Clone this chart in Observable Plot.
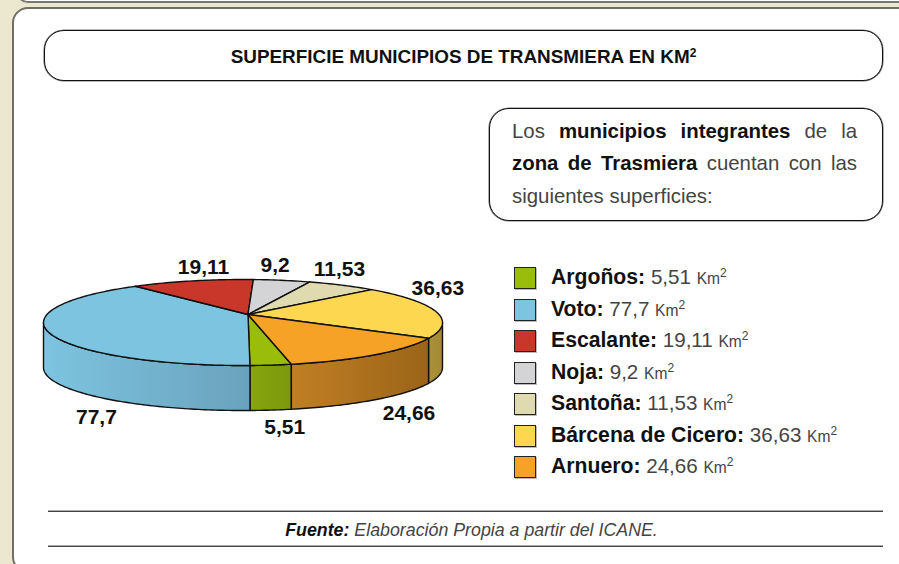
<!DOCTYPE html>
<html lang="es">
<head>
<meta charset="utf-8">
<script src="https://cdn.jsdelivr.net/npm/d3@7"></script>
<script src="https://cdn.jsdelivr.net/npm/@observablehq/plot@0.6"></script>
<style>
html,body{margin:0;padding:0;width:899px;height:564px;overflow:hidden;background:#ece7cf;font-family:"Liberation Sans",Arimo,sans-serif;color:#222}
.abs{position:absolute;box-sizing:border-box}
#prev{left:16px;top:-30px;width:900px;height:33px;background:#fff;border:2px solid #777;border-radius:0 0 0 12px}
#panel{left:12px;top:7px;width:920px;height:566px;background:#fff;border:2px solid #6f6f68;border-radius:16px}
.box{border:1px solid #111;box-shadow:0 0 0 .6px #777;border-radius:20px;background:#fff}
#title{left:44px;top:30px;width:839px;height:51px;padding-top:3px;display:flex;align-items:center;justify-content:center;font-weight:bold;font-size:18.9px;color:#111}
#title sup{font-size:12px;line-height:0;vertical-align:6px}
#note{left:489px;top:108px;width:394px;height:113px}
.ln{position:absolute;left:512px;width:345px;font-size:20.4px;line-height:24px;color:#444;white-space:nowrap}
.just{text-align:justify;text-align-last:justify;white-space:normal}
.ln b,.lg b{color:#111}
.sw{position:absolute;left:514px;width:22px;height:22px;box-sizing:border-box;border:1px solid #222;box-shadow:1px 1px 0 #bbb}
.lg{position:absolute;left:551px;height:24px;line-height:24px;font-size:20.6px;color:#444;white-space:nowrap}
.lg b{font-size:21.2px}
.lg small{font-size:15.6px}
.lg sup{font-size:12px;line-height:0;vertical-align:7px}
.rule{left:48px;width:835px;height:2px;background:#444;border-top:1px solid #aaa}
#src{left:54px;top:519px;width:835px;text-align:center;font-style:italic;font-size:17.8px;line-height:22px;color:#444}
#src b{color:#111}
#pie{left:0;top:240px}
#pie svg{background:transparent;display:block}
</style>
</head>
<body>
<div class="abs" id="prev"></div>
<div class="abs" id="panel"></div>
<div class="abs box" id="title"><span>SUPERFICIE MUNICIPIOS DE TRANSMIERA EN KM<sup>2</sup></span></div>
<div class="abs box" id="note"></div>
<div class="ln just" style="top:119px">Los <b>municipios integrantes</b> de la</div>
<div class="ln just" style="top:151px"><b>zona de Trasmiera</b> cuentan con las</div>
<div class="ln" style="top:184px">siguientes superficies:</div>
<div id="legend"></div>
<div class="abs rule" style="top:510px"></div>
<div class="abs rule" style="top:545px"></div>
<div class="abs" id="src"><b>Fuente:</b> Elaboración Propia a partir del ICANE.</div>
<div class="abs" id="pie"></div>
<script>
// Data
const municipios = ["Argoños", "Voto", "Escalante", "Noja", "Santoña", "Bárcena de Cicero", "Arnuero"];
const superficies = [5.51, 77.7, 19.11, 9.2, 11.53, 36.63, 24.66];
const etiquetas = ["5,51", "77,7", "19,11", "9,2", "11,53", "36,63", "24,66"];
const colores = ["#9abd0c", "#7dc4e0", "#c9372a", "#d4d4d6", "#dfdab0", "#fed751", "#f5a227"];
// Wall shading, left and right end of each visible side
const paredIzq = ["#86a50e", "#7dc4e0", "#c9372a", "#d4d4d6", "#dfdab0", "#ab8f3a", "#c17f24"];
const paredDer = ["#7a980b", "#6aa2bc", "#c9372a", "#d4d4d6", "#dfdab0", "#a58a34", "#9a6418"];
// Label offsets in pixels from the rim midpoint of each slice
const etiquetaDx = [14, 46, 11, -7, -3, 3, 34];
const etiquetaDy = [62, 84, -14, -15, -16, -22, 59];

// Perspective of the tilted disc
const giro = 74.1, amplitud = 5, fase = 80;  // degrees
const amplitud2 = 1, amplitud3 = 1.2;        // degrees
const apice = [0.025, -0.186];               // disc centre, in disc units
const grosor = 1.047;                        // wall depth, in disc units
const rad = Math.PI / 180;
const rimAngle = (phi) => phi + giro + amplitud * Math.cos((phi - fase) * rad)
  + amplitud2 * Math.cos(2 * phi * rad) + amplitud3 * Math.sin(2 * phi * rad);
const rimPoint = (a) => [Math.cos(a * rad), Math.sin(a * rad)];

const total = d3.sum(superficies);
let acc = 0;
const slices = municipios.map((name, i) => {
  const a0 = rimAngle(acc / total * 360);
  const mid = rimAngle((acc + superficies[i] / 2) / total * 360);
  acc += superficies[i];
  const a1 = rimAngle(acc / total * 360);
  return {name, i, a0, a1, mid};
});
const arc = (a0, a1) => [...d3.range(a0, a1, 1), a1];

// Top faces
const caras = slices.flatMap((s) => [
  {name: s.name, x: apice[0], y: apice[1]},
  ...arc(s.a0, s.a1).map((a) => { const [x, y] = rimPoint(a); return {name: s.name, x, y}; })
]);

// Visible part of each wall: the rim where sin(angle) >= 0
const walls = slices.flatMap((s) => {
  const out = [];
  for (const k of [0, 360]) {
    const a0 = Math.max(s.a0, k), a1 = Math.min(s.a1, k + 180);
    if (a1 > a0) {
      const pts = arc(a0, a1).map(rimPoint);
      out.push({i: s.i, pts: [
        ...pts.map(([x, y]) => ({x, y})),
        ...pts.slice().reverse().map(([x, y]) => ({x, y: y + grosor}))
      ]});
    }
  }
  return out;
});

const defs = () => {
  const d = d3.create("svg:defs");
  municipios.forEach((_, i) => {
    const g = d.append("linearGradient").attr("id", "pared" + i);
    g.append("stop").attr("offset", 0).attr("stop-color", paredIzq[i]);
    g.append("stop").attr("offset", 1).attr("stop-color", paredDer[i]);
  });
  return d.node();
};

const plot = Plot.plot({
  width: 480, height: 210,
  margin: 0,
  style: {background: "transparent", fontFamily: "'Liberation Sans',sans-serif"},
  x: {domain: [-1, 1], range: [43, 442], axis: null},
  y: {domain: [-1, 1], range: [39, 125], axis: null},
  color: {domain: municipios, range: colores},
  marks: [
    defs,
    ...walls.map((w) => Plot.line(w.pts, {
      x: "x", y: "y", curve: "linear-closed",
      fill: `url(#pared${w.i})`, stroke: "#111", strokeWidth: 1.4, strokeLinejoin: "round"
    })),
    Plot.line(caras, {
      x: "x", y: "y", z: "name", fill: "name", curve: "linear-closed",
      stroke: "#111", strokeWidth: 1.4, strokeLinejoin: "round"
    }),
    ...slices.map((s) => {
      const [x, y] = rimPoint(s.mid);
      return Plot.text([etiquetas[s.i]], {
        x: [x], y: [y], text: (d) => d,
        dx: etiquetaDx[s.i], dy: etiquetaDy[s.i],
        fontSize: 21, fontWeight: "bold", fill: "#111"
      });
    })
  ]
});
document.getElementById("pie").append(plot);

// Legend
const legend = document.getElementById("legend");
municipios.forEach((name, i) => {
  const ytop = 267 + i * 31.5;
  const sw = document.createElement("div");
  sw.className = "sw";
  sw.style.top = ytop + "px";
  sw.style.background = colores[i];
  legend.append(sw);
  const t = document.createElement("div");
  t.className = "lg";
  t.style.top = (ytop - 2) + "px";
  t.innerHTML = `<b>${name}:</b> ${etiquetas[i]} <small>Km</small><sup>2</sup>`;
  legend.append(t);
});
</script>
</body>
</html>
